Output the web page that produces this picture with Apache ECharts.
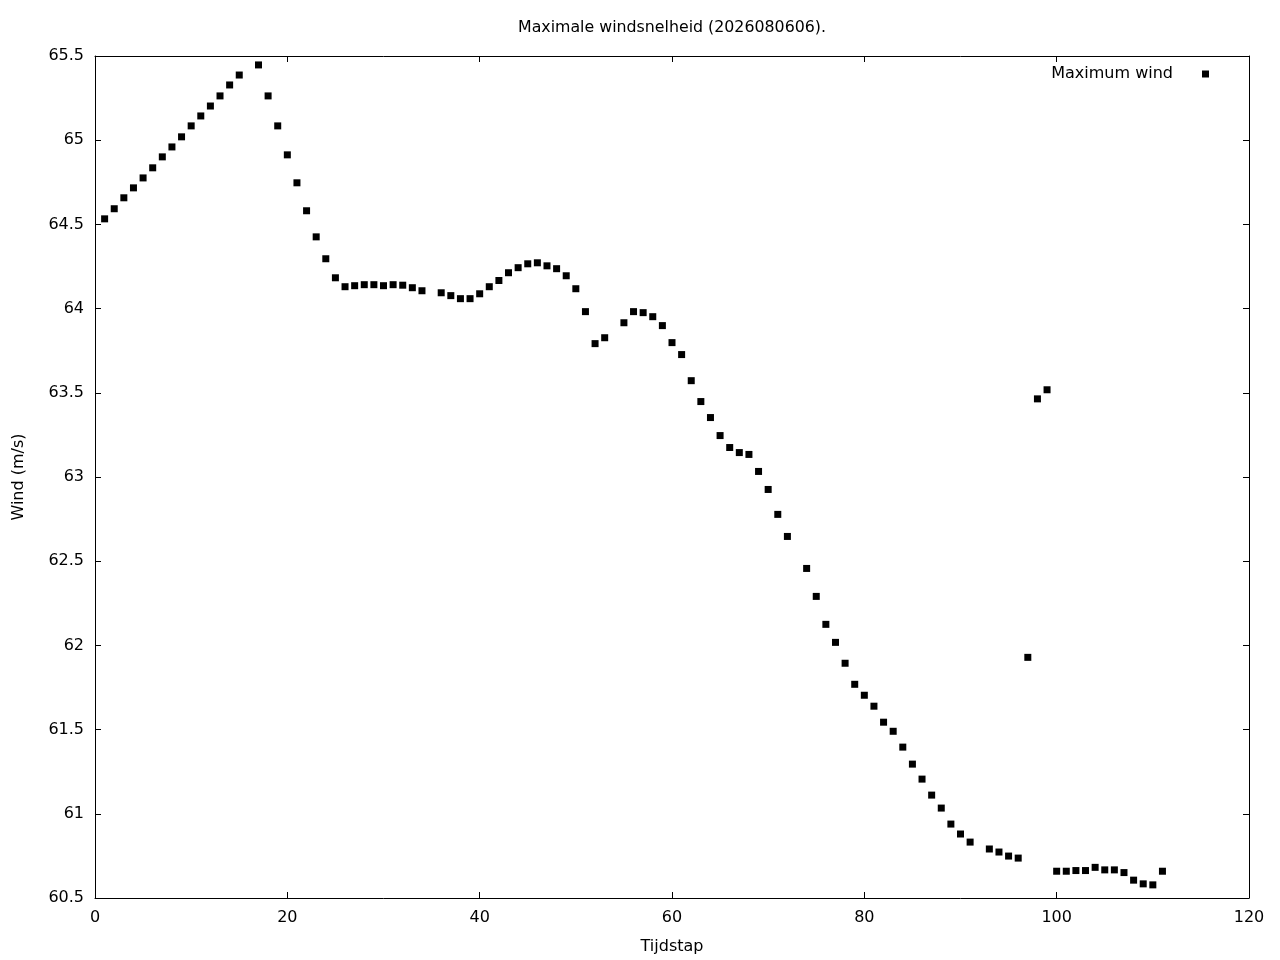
<!DOCTYPE html>
<html>
<head>
<meta charset="utf-8">
<script src="https://cdn.jsdelivr.net/npm/echarts@6/dist/echarts.min.js"></script>
<style>
  html, body { margin: 0; padding: 0; background: #fff; }
  #chart { width: 1280px; height: 960px; }
</style>
</head>
<body>
<div id="chart"></div>
<script>
// tijdstappen (16, 35, 54, 73 en 92 ontbreken in de data)
var tijdstap = [
    1, 2, 3, 4, 5, 6, 7, 8, 9, 10, 11, 12, 13, 14, 15, 17, 18, 19, 20,
    21, 22, 23, 24, 25, 26, 27, 28, 29, 30, 31, 32, 33, 34, 36, 37, 38, 39, 40,
    41, 42, 43, 44, 45, 46, 47, 48, 49, 50, 51, 52, 53, 55, 56, 57, 58, 59, 60,
    61, 62, 63, 64, 65, 66, 67, 68, 69, 70, 71, 72, 74, 75, 76, 77, 78, 79, 80,
    81, 82, 83, 84, 85, 86, 87, 88, 89, 90, 91, 93, 94, 95, 96, 97, 98, 99, 100,
    101, 102, 103, 104, 105, 106, 107, 108, 109, 110, 111
];
var wind = [
    64.533, 64.593, 64.658, 64.717, 64.776, 64.836, 64.901, 64.960, 65.020, 65.085,
    65.144, 65.203, 65.263, 65.328, 65.387, 65.447, 65.263, 65.085, 64.913,
    64.747, 64.581, 64.426, 64.296, 64.183, 64.130, 64.136, 64.142, 64.142, 64.136,
    64.142, 64.139, 64.124, 64.106, 64.094, 64.077, 64.059, 64.059, 64.088,
    64.130, 64.167, 64.213, 64.243, 64.266, 64.272, 64.254, 64.237, 64.195, 64.118,
    63.982, 63.792, 63.827, 63.916, 63.982, 63.976, 63.952, 63.899, 63.798,
    63.727, 63.572, 63.448, 63.353, 63.246, 63.175, 63.145, 63.134, 63.033, 62.926,
    62.778, 62.647, 62.457, 62.291, 62.125, 62.018, 61.894, 61.769, 61.704,
    61.639, 61.544, 61.490, 61.396, 61.295, 61.206, 61.111, 61.034, 60.939, 60.880,
    60.832, 60.791, 60.773, 60.749, 60.737, 61.929, 63.464, 63.518, 60.659,
    60.659, 60.663, 60.663, 60.682, 60.667, 60.667, 60.651, 60.606, 60.584, 60.578,
    60.659
];
var xTicks = {min: 0, max: 120, interval: 20};
var yTicks = {min: 60.5, max: 65.5, interval: 0.5};

var font = 'DejaVu Sans';
var fontSize = 16;

var points = [];
for (var i = 0; i < tijdstap.length; i++) {
    points.push([tijdstap[i], wind[i]]);
}

var myChart = echarts.init(document.getElementById('chart'));

function axisBase(extra) {
    var ax = {
        type: 'value',
        splitLine: {show: false},
        axisLine: {show: true, onZero: false, lineStyle: {color: '#000', width: 1}},
        axisTick: {show: true, inside: true, length: 6, lineStyle: {color: '#000', width: 1}},
        axisLabel: {show: true, color: '#000', fontFamily: font, fontSize: fontSize}
    };
    for (var k in extra) ax[k] = extra[k];
    return ax;
}

var option = {
    backgroundColor: '#fff',
    animation: false,
    title: {
        text: 'Maximale windsnelheid (2026080606).',
        left: 518,
        top: 20,
        padding: 0,
        textStyle: {color: '#000', fontFamily: font, fontSize: 15.8, fontWeight: 'normal'}
    },
    legend: {
        right: 66,
        top: 60,
        align: 'right',
        itemWidth: 7,
        itemHeight: 7,
        data: [{name: 'Maximum wind', icon: 'rect', itemStyle: {color: '#000', opacity: 1}}],
        textStyle: {color: '#000', fontFamily: font, fontSize: fontSize, lineHeight: 18, padding: [0, 24, 0, 0]}
    },
    grid: {left: 95, right: 31, top: 56, bottom: 61, containLabel: false},
    xAxis: [
        axisBase({
            min: xTicks.min, max: xTicks.max, interval: xTicks.interval,
            position: 'bottom',
            name: 'Tijdstap', nameLocation: 'middle', nameGap: 41,
            nameTextStyle: {color: '#000', fontFamily: font, fontSize: fontSize},
            axisLabel: {show: true, color: '#000', fontFamily: font, fontSize: fontSize, margin: 12}
        }),
        axisBase({
            min: xTicks.min, max: xTicks.max, interval: xTicks.interval,
            position: 'top',
            axisLabel: {show: false}
        })
    ],
    yAxis: [
        axisBase({
            min: yTicks.min, max: yTicks.max, interval: yTicks.interval,
            position: 'left',
            name: 'Wind (m/s)', nameLocation: 'middle', nameGap: 68, nameRotate: 90,
            nameTextStyle: {color: '#000', fontFamily: font, fontSize: fontSize},
            axisLabel: {show: true, color: '#000', fontFamily: font, fontSize: fontSize, margin: 11}
        }),
        axisBase({
            min: yTicks.min, max: yTicks.max, interval: yTicks.interval,
            position: 'right',
            axisLabel: {show: false}
        })
    ],
    series: [{
        name: 'Maximum wind',
        type: 'scatter',
        xAxisIndex: 0,
        yAxisIndex: 0,
        symbol: 'rect',
        symbolSize: 7,
        itemStyle: {color: '#000', opacity: 1},
        data: points
    }]
};
myChart.setOption(option);
</script>
</body>
</html>
